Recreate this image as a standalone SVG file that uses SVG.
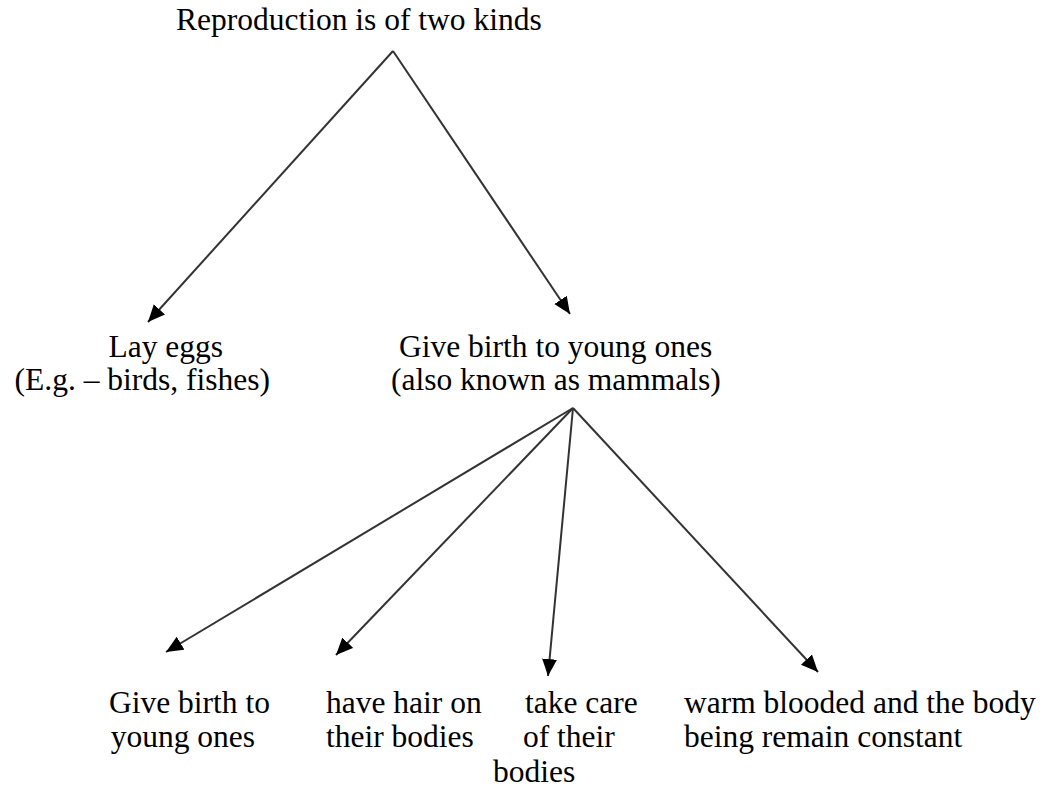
<svg xmlns="http://www.w3.org/2000/svg" width="1058" height="791" viewBox="0 0 1058 791">
<style>
text{font-family:"Liberation Serif","Times New Roman",serif;font-size:31.5px;fill:#000}
.e{text-anchor:end}
.c{stroke:#333;stroke-width:2;fill:none;marker-end:url(#ah)}
</style>
<defs>
<marker id="ah" markerUnits="userSpaceOnUse" markerWidth="20" markerHeight="20" refX="17" refY="7.5" orient="auto">
<path d="M0,0 L17,7.5 L0,15 Z" fill="#000"/>
</marker>
</defs>
<rect width="1058" height="791" fill="#fff"/>
<g id="connectors">
<line class="c" x1="393" y1="51" x2="148" y2="322"/>
<line class="c" x1="393" y1="51" x2="570" y2="314"/>
<line class="c" x1="573" y1="408" x2="166" y2="652"/>
<line class="c" x1="573" y1="408" x2="336" y2="655"/>
<line class="c" x1="573" y1="408" x2="548" y2="676"/>
<line class="c" x1="573" y1="408" x2="818" y2="672"/>
</g>
<g id="root"><text x="176" y="30">Reproduction is of two kinds</text></g>
<g id="lay-eggs"><text class="e" x="223" y="357">Lay eggs</text><text class="e" x="270" y="390">(E.g. – birds, fishes)</text></g>
<g id="give-birth"><text x="399" y="357">Give birth to young ones</text><text x="391" y="390">(also known as mammals)</text></g>
<g id="n1"><text class="e" x="270" y="713">Give birth to</text><text class="e" x="255" y="747">young ones</text></g>
<g id="n2"><text x="326" y="713">have hair on</text><text x="326" y="747">their bodies</text></g>
<g id="n3"><text x="525" y="713">take care</text><text x="523" y="747">of their</text><text x="493" y="782">bodies</text></g>
<g id="n4"><text x="684" y="713">warm blooded and the body</text><text x="684" y="747">being remain constant</text></g>
</svg>
